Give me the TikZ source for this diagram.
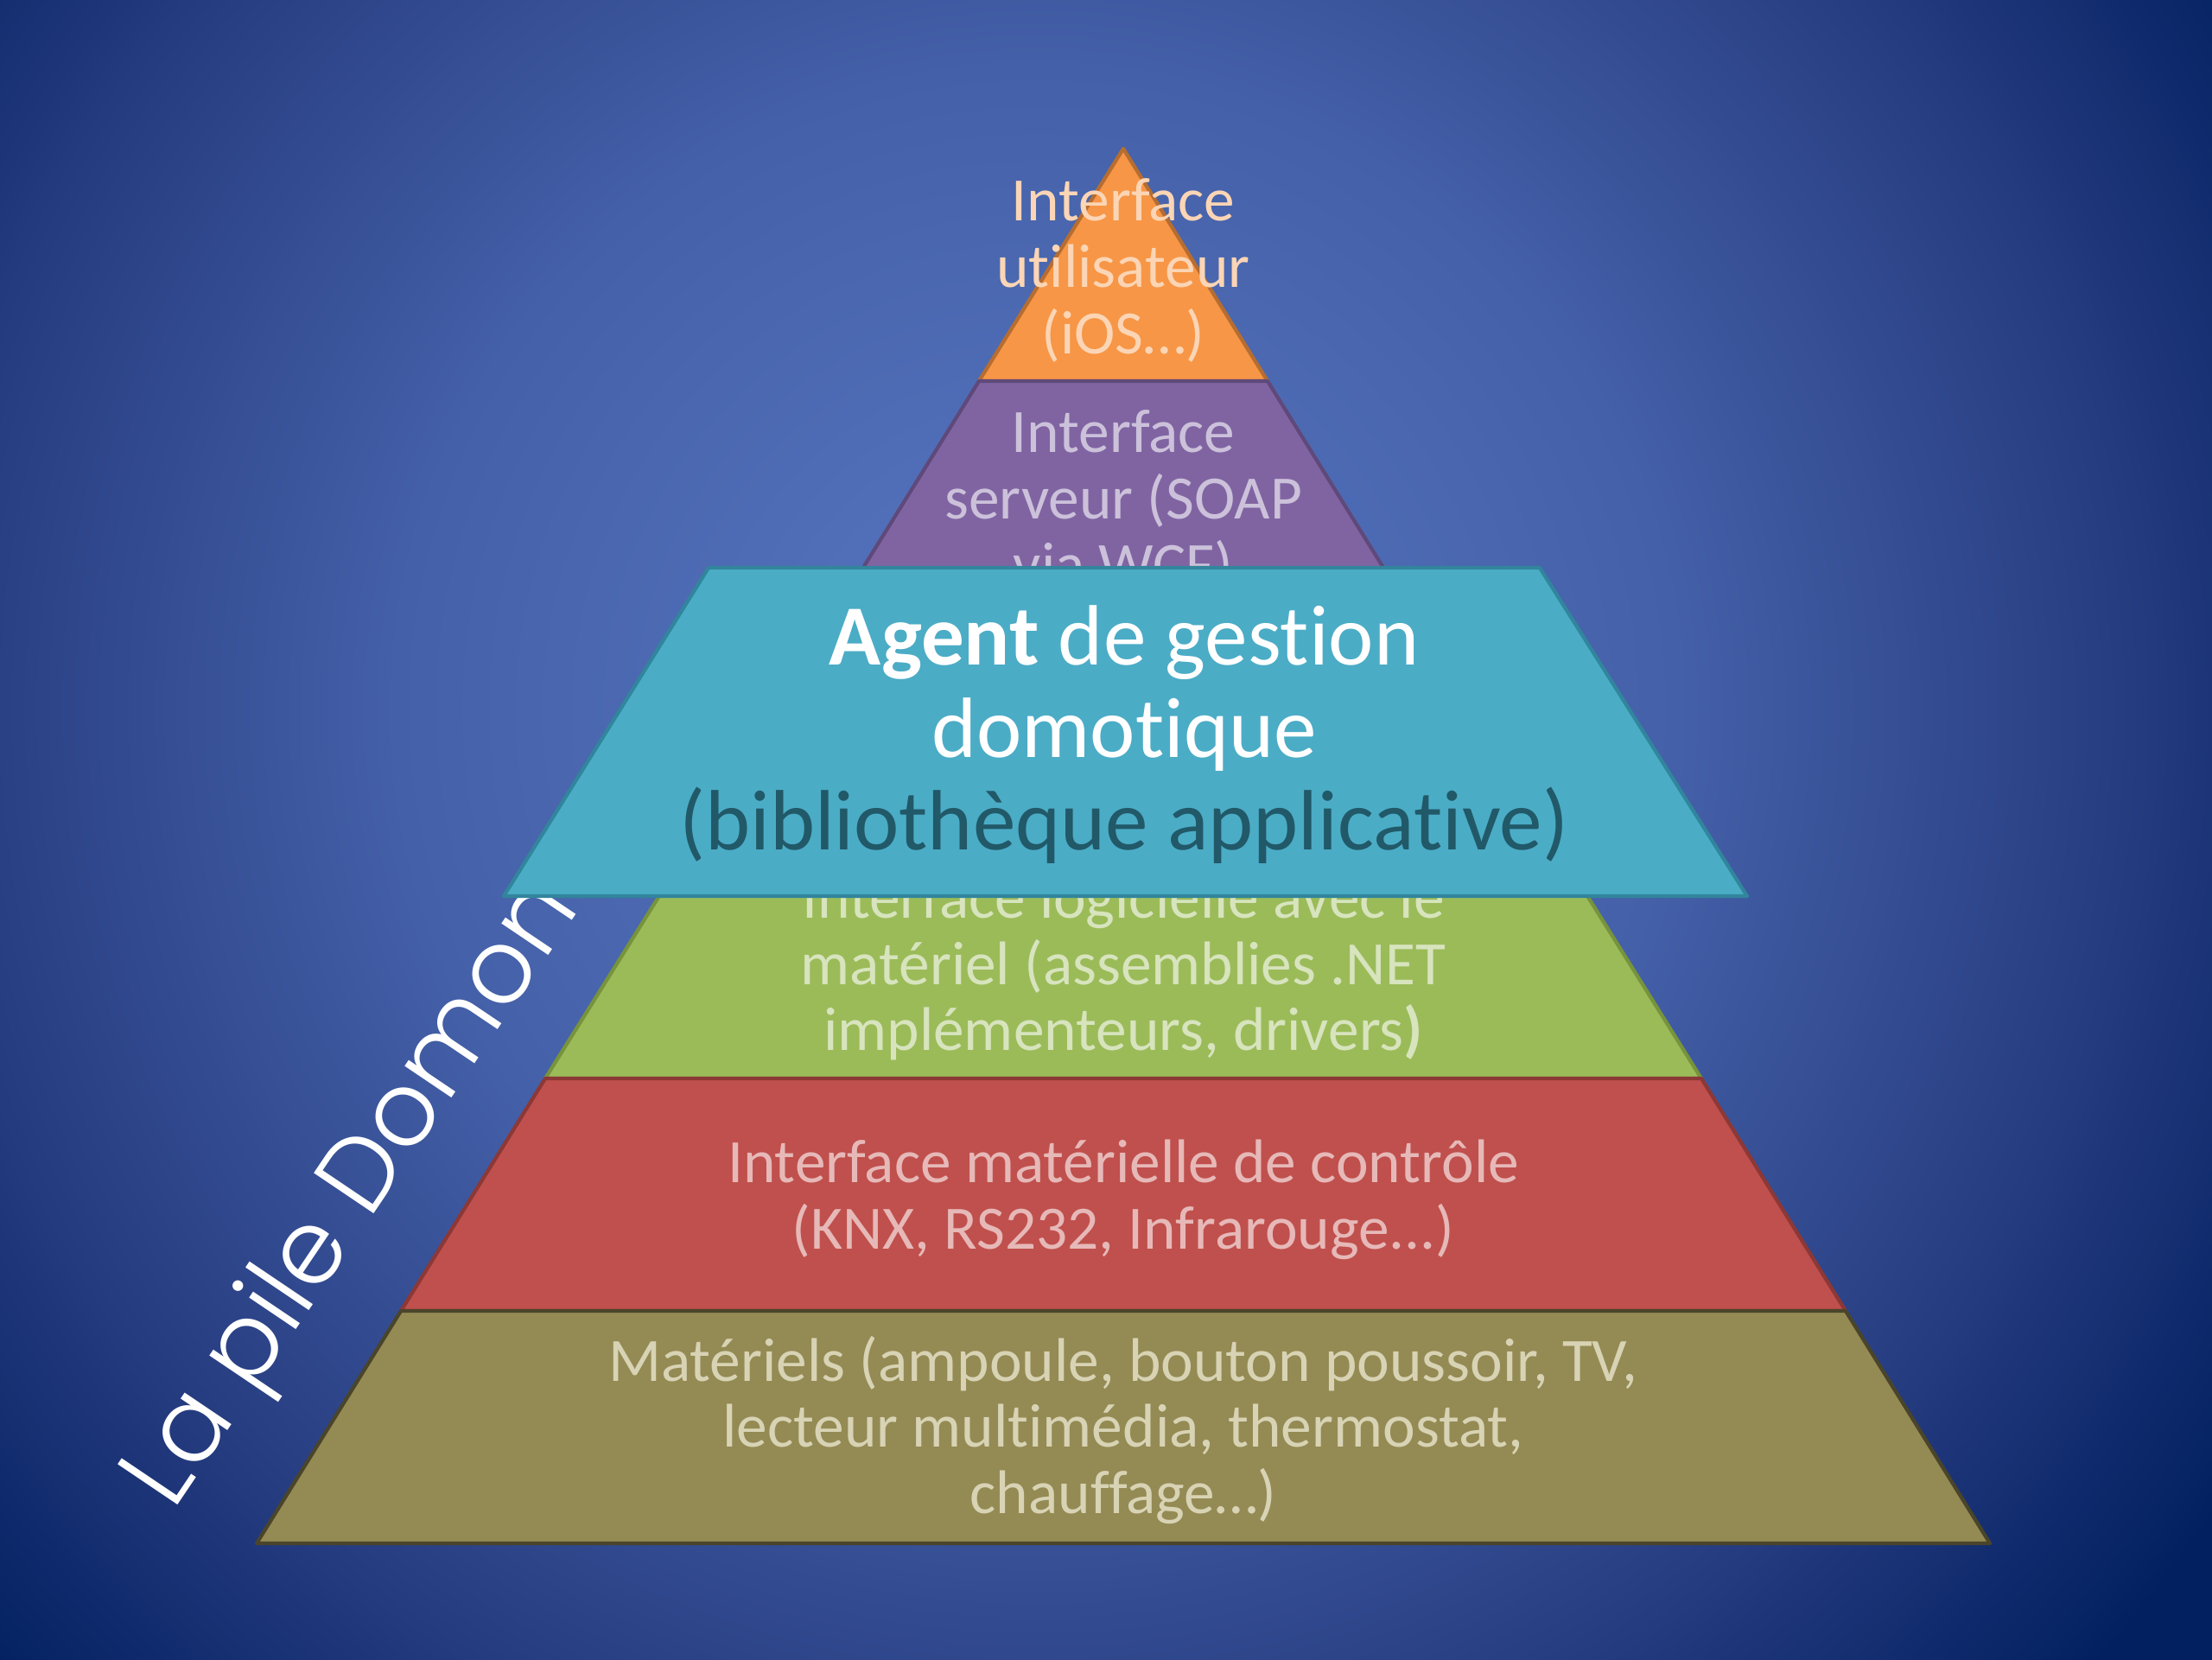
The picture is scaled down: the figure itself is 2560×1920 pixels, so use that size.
\documentclass[tikz,border=0pt]{standalone}
\usepackage{fontspec}
\setmainfont{Carlito}[Ligatures=NoCommon]
\newfontfamily\lblfont{Poppins}[UprightFont={* Light}]
\definecolor{bgin}{RGB}{88,120,194}
\definecolor{bgmida}{RGB}{68,96,168}
\definecolor{bgmidb}{RGB}{40,62,130}
\definecolor{bgout}{RGB}{2,32,96}
\pgfdeclareradialshading{bgshade}{\pgfpoint{0bp}{0bp}}{color(0bp)=(bgin); color(11.25bp)=(bgmida); color(18.75bp)=(bgmidb); color(25bp)=(bgout); color(50bp)=(bgout)}
\definecolor{orfill}{HTML}{F79646}\definecolor{ordraw}{HTML}{B66D31}\definecolor{ortext}{HTML}{FBD5B5}
\definecolor{pufill}{HTML}{8064A2}\definecolor{pudraw}{HTML}{5F497A}\definecolor{putext}{HTML}{CCC1DA}
\definecolor{cyfill}{HTML}{4BACC6}\definecolor{cydraw}{HTML}{31859C}\definecolor{cydark}{HTML}{215968}
\definecolor{grfill}{HTML}{9BBB59}\definecolor{grdraw}{HTML}{77933C}\definecolor{grtext}{HTML}{D7E4BD}
\definecolor{refill}{HTML}{C0504D}\definecolor{redraw}{HTML}{8C3836}\definecolor{retext}{HTML}{E6B9B8}
\definecolor{olfill}{HTML}{948A54}\definecolor{oldraw}{HTML}{4A452A}\definecolor{oltext}{HTML}{D8D3B4}
\begin{document}
\begin{tikzpicture}[x=0.01cm,y=-0.01cm,
  layer/.style={line width=1.2pt, line join=round},
  ltext/.style={align=center, inner sep=0pt, font=\fontsize{20.3}{21.8}\selectfont},
  agtext/.style={align=center, inner sep=0pt, text=white, font=\fontsize{28.2}{30.4}\selectfont}]
\useasboundingbox (0,0) rectangle (2560,1920);
\fill[bgout] (-20,-20) rectangle (2580,1940);
\begin{scope}
  \clip (-20,-20) rectangle (2580,1940);
  \shade[shading=bgshade] (1200,820) circle (1650);
\end{scope}
% side label
\node[rotate=56, anchor=base west, text=white, inner sep=0pt,
      font=\lblfont\fontsize{34}{40}\selectfont] (lbl) at (200,1750) {La pile Domon};
% pyramid layers
\filldraw[layer, fill=orfill, draw=ordraw] (1300,172) -- (1467,441) -- (1133,441) -- cycle;
\filldraw[layer, fill=pufill, draw=pudraw] (1133,441) -- (1467,441) -- (1634,710) -- (966,710) -- cycle;
\filldraw[layer, fill=grfill, draw=grdraw] (799,979) -- (1801,979) -- (1969,1248) -- (631,1248) -- cycle;
\filldraw[layer, fill=refill, draw=redraw] (631,1248) -- (1969,1248) -- (2136,1517) -- (464,1517) -- cycle;
\filldraw[layer, fill=olfill, draw=oldraw] (464,1517) -- (2136,1517) -- (2303,1786) -- (297,1786) -- cycle;
% layer texts
\node[ltext, text=ortext] (tui) at (1300,313) {Interface\\utilisateur\\(iOS…)};
\node[ltext, text=putext] (tsrv) at (1300,581) {Interface\\serveur (SOAP\\via WCF)};
\node[ltext, text=grtext] (tsw) at (1300,1120) {Interface logicielle avec le\\matériel (assemblies .NET\\implémenteurs, drivers\textbf{)}};
\node[ltext, text=retext] (thw) at (1300,1388) {Interface matérielle de contrôle\\(KNX, RS232, Infrarouge...)};
\node[ltext, text=oltext] (tmat) at (1300,1655) {Matériels (ampoule, bouton poussoir, TV,\\lecteur multimédia, thermostat,\\chauffage…)};
% popped-out agent layer
\filldraw[layer, fill=cyfill, draw=cydraw] (820,657) -- (1782,657) -- (2022,1037) -- (583,1037) -- cycle;
\node[agtext] (tag) at (1301,850) {\textbf{Agent} de gestion\\domotique\\\textcolor{cydark}{(bibliothèque applicative)}};
\end{tikzpicture}
\end{document}
